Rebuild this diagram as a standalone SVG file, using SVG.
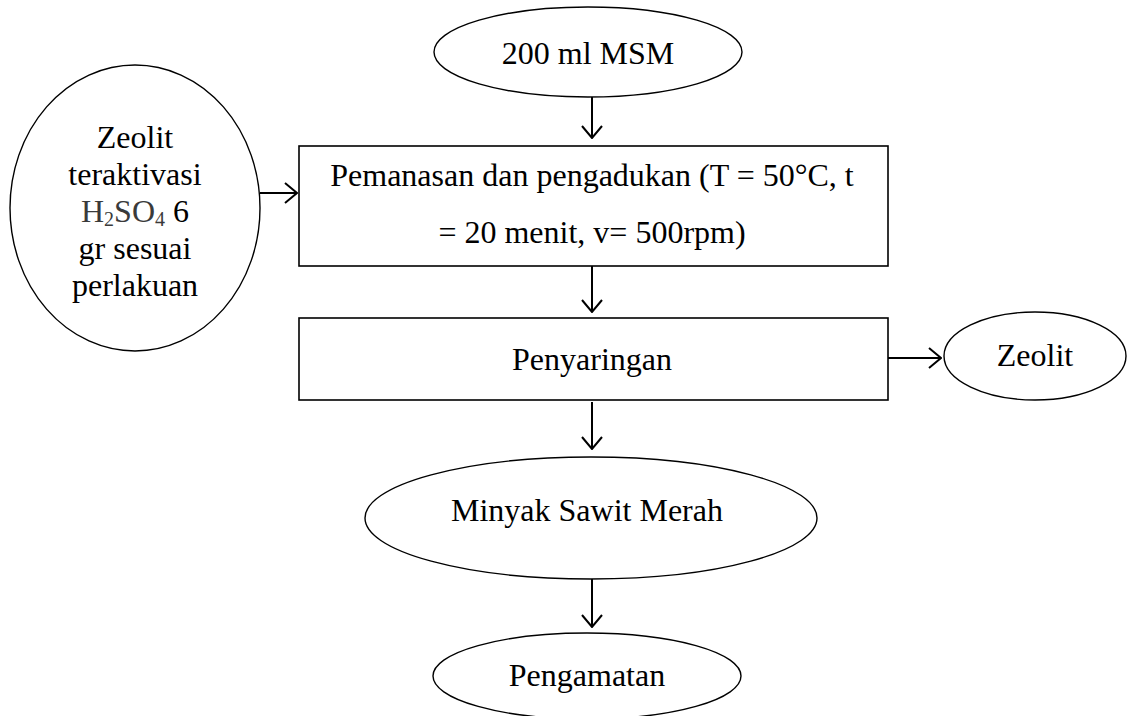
<svg xmlns="http://www.w3.org/2000/svg" width="1127" height="716" viewBox="0 0 1127 716">
  <style>
    .shape { fill: #fff; stroke: #000; stroke-width: 1.4; }
    .box { fill: #fff; stroke: #000; stroke-width: 1.6; }
    .chem { fill: #3a3a3a; }
    .flow { fill: none; stroke: #000; stroke-width: 2; marker-end: url(#vhead); }
  </style>
  <defs>
    <marker id="vhead" viewBox="0 0 14 22" refX="13" refY="11" markerWidth="14" markerHeight="22" markerUnits="userSpaceOnUse" orient="auto">
      <path d="M1,1 L13,11 L1,21" fill="none" stroke="#000" stroke-width="2"/>
    </marker>
  </defs>
  <rect width="1127" height="716" fill="#fff"/>

  <g id="connectors">
    <line class="flow" x1="592" y1="97" x2="592" y2="138"/>
    <line class="flow" x1="260" y1="193" x2="297" y2="193"/>
    <line class="flow" x1="592" y1="266" x2="592" y2="312"/>
    <line class="flow" x1="888" y1="358" x2="941" y2="358"/>
    <line class="flow" x1="592" y1="402" x2="592" y2="449"/>
    <line class="flow" x1="592" y1="579" x2="592" y2="627"/>
  </g>

  <g font-family="'Liberation Serif', 'Times New Roman', serif" font-size="32" fill="#000" text-anchor="middle">
    <g id="node-msm">
      <ellipse class="shape" cx="588" cy="52" rx="154" ry="45"/>
      <text x="588" y="64">200 ml MSM</text>
    </g>

    <g id="node-zeolit-aktif">
      <ellipse class="shape" cx="135" cy="208" rx="125" ry="143"/>
      <text x="135" y="148">Zeolit</text>
      <text x="135" y="185">teraktivasi</text>
      <text x="135" y="222"><tspan class="chem">H<tspan font-size="20" dy="4">2</tspan><tspan dy="-4">SO</tspan><tspan font-size="20" dy="4">4</tspan></tspan><tspan dy="-4"> 6</tspan></text>
      <text x="135" y="259">gr sesuai</text>
      <text x="135" y="296">perlakuan</text>
    </g>

    <g id="node-pemanasan">
      <rect class="box" x="299" y="146" width="589" height="120"/>
      <text x="592" y="186">Pemanasan dan pengadukan (T = 50°C, t</text>
      <text x="592" y="243">= 20 menit, v= 500rpm)</text>
    </g>

    <g id="node-penyaringan">
      <rect class="box" x="299" y="318" width="589" height="82"/>
      <text x="592" y="370">Penyaringan</text>
    </g>

    <g id="node-zeolit">
      <ellipse class="shape" cx="1035" cy="356" rx="91" ry="44"/>
      <text x="1035" y="366">Zeolit</text>
    </g>

    <g id="node-minyak">
      <ellipse class="shape" cx="591" cy="518" rx="226" ry="61"/>
      <text x="587" y="521">Minyak Sawit Merah</text>
    </g>

    <g id="node-pengamatan">
      <ellipse class="shape" cx="587" cy="676" rx="154" ry="43"/>
      <text x="587" y="686">Pengamatan</text>
    </g>
  </g>
</svg>
